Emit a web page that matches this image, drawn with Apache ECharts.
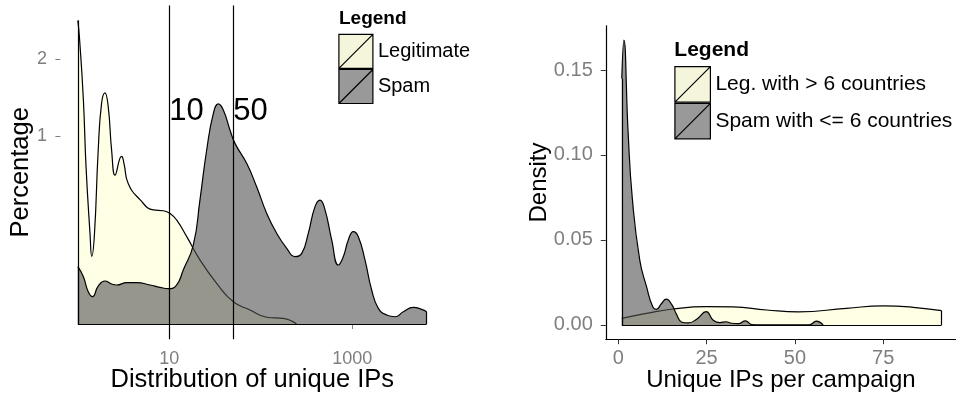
<!DOCTYPE html>
<html>
<head>
<meta charset="utf-8">
<script src="https://cdn.jsdelivr.net/npm/echarts@6/dist/echarts.min.js"></script>
<style>
  html, body { margin: 0; padding: 0; background: #fff; }
  #chart { width: 956px; height: 397px; }
</style>
</head>
<body>
<div id="chart"></div>
<script>
// ---- Left panel: distribution of unique IPs (log x, square-root y, in %) ----
const legitX   = [1.00, 1.04, 1.15, 1.23, 1.36, 1.42, 1.52, 1.67, 1.82, 1.98, 2.15, 2.34, 2.55, 2.88, 3.01, 3.20, 3.56, 4.78, 6.69, 8.60, 10.2, 12.0, 15.5, 21.6, 32.9, 50.1, 76.1, 116, 176, 246];
const legitPct = [2.62, 2.35, 1.43, 0.70, 0.23, 0.13, 0.23, 0.86, 1.39, 1.52, 1.34, 0.86, 0.63, 0.78, 0.80, 0.73, 0.56, 0.44, 0.37, 0.365, 0.348, 0.308, 0.217, 0.117, 0.047, 0.014, 0.0056, 0.0013, 0.0009, 0];

const spamX   = [1.0, 1.15, 1.30, 1.45, 1.67, 1.98, 2.34, 2.66, 3.42, 4.40, 6.15, 7.91, 9.75, 12.0, 14.2, 18.3, 21.6, 25.6, 30.3, 34.3, 38.9, 46.0, 52.2, 70.0, 90.0, 116, 149, 192, 236, 280, 330, 391, 443, 503, 595, 703, 797, 904, 1025, 1163, 1375, 1627, 1924, 2373, 2927, 3609, 4642, 5723, 6493];
const spamPct = [0.0935, 0.0637, 0.0297, 0.0213, 0.0411, 0.0526, 0.0455, 0.0433, 0.0486, 0.0486, 0.0433, 0.0382, 0.0355, 0.0433, 0.083, 0.178, 0.437, 0.861, 1.262, 1.377, 1.303, 1.071, 0.928, 0.734, 0.536, 0.348, 0.234, 0.163, 0.129, 0.142, 0.234, 0.392, 0.437, 0.370, 0.201, 0.099, 0.129, 0.201, 0.243, 0.217, 0.117, 0.0329, 0.0070, 0.0023, 0.0015, 0.0043, 0.0079, 0.0061, 0.0043];

const thresholds = [10, 50];          // vertical reference lines
const thresholdLabelPct = 1.29;        // height of their labels
const leftXTicks = [10, 1000];
const leftYTicks = [1, 2];

// ---- Right panel: density of unique IPs per campaign ----
const legWideX    = [1.0, 8, 15.5, 25, 32.5, 42, 51, 64.6, 75, 83.5, 91.5];
const legWideDens = [0.0039, 0.0068, 0.0094, 0.0108, 0.0106, 0.0088, 0.0077, 0.0098, 0.0112, 0.0104, 0.0084];

const spamNarrowX    = [1.0, 1.6, 2.8, 4.0, 6.1, 8.0, 9.8, 10.8, 12.2, 13.6, 15.2, 16.5, 18.0, 19.8, 22.2, 24.9, 26.9, 28.8, 30.5, 32.1, 34.0, 36.0, 37.8, 40.0, 54.0, 56.1, 58.0];
const spamNarrowDens = [0.145, 0.1676, 0.113, 0.074, 0.038, 0.0225, 0.0105, 0.0092, 0.0125, 0.0152, 0.0118, 0.0062, 0.0016, 0.0012, 0.0034, 0.0078, 0.0028, 0.0014, 0.0019, 0.0010, 0.0008, 0.0024, 0.0002, 0, 0, 0.0022, 0];

const rightXTicks = [0, 25, 50, 75];
const rightYTicks = [0, 0.05, 0.10, 0.15];

const names = {
  legit: 'Legitimate',
  spam: 'Spam',
  legWide: 'Leg. with > 6 countries',
  spamNarrow: 'Spam with <= 6 countries'
};

// ---- helpers ----
const FONT = "'Liberation Sans', Arial, Helvetica, sans-serif";
const CREAM = '#FFFFE6';
const CREAM_KEY = '#F5F5DC';
const GREY_KEY = '#999999';
const sq = v => Math.sqrt(v);
const zip = (xs, ys, f) => xs.map((x, i) => [x, f ? f(ys[i]) : ys[i]]);
const keyIcon = 'path://M0,0L10,0L10,10L0,10Z M0,10L10,0';

// black outline for the closed density polygon: side edges and baseline
function edges(xs, ys, f, withBaseline) {
  const g = f || (v => v);
  const n = xs.length - 1;
  const d = [
    [{ coord: [xs[0], 0] }, { coord: [xs[0], g(ys[0])] }],
    [{ coord: [xs[n], 0] }, { coord: [xs[n], g(ys[n])] }]
  ];
  if (withBaseline) d.push([{ coord: [xs[0], 0] }, { coord: [xs[n], 0] }]);
  return {
    silent: true, symbol: 'none', label: { show: false },
    lineStyle: { color: '#000', width: 1.2, type: 'solid' },
    emphasis: { disabled: true },
    data: d
  };
}

function densitySeries(name, gridIdx, xs, ys, f, fill, opacity, z, baseline) {
  return {
    name, type: 'line', xAxisIndex: gridIdx, yAxisIndex: gridIdx,
    data: zip(xs, ys, f), smooth: 0.5, symbol: 'none', z,
    lineStyle: { color: '#000', width: 1.2 },
    itemStyle: { color: fill },
    areaStyle: { color: fill, opacity },
    emphasis: { disabled: true },
    markLine: edges(xs, ys, f, baseline)
  };
}

const tickLabel = (size) => ({ color: '#7f7f7f', fontSize: size, fontFamily: FONT });

const chart = echarts.init(document.getElementById('chart'), null, { renderer: 'canvas' });
chart.setOption({
  animation: false,
  textStyle: { fontFamily: FONT },
  title: [
    { text: 'Legend', left: 339, top: 9, padding: 0,
      textStyle: { fontSize: 19, fontWeight: 'bold', color: '#000', fontFamily: FONT, lineHeight: 19 } },
    { text: 'Legend', left: 674.3, top: 40, padding: 0,
      textStyle: { fontSize: 21, fontWeight: 'bold', color: '#000', fontFamily: FONT, lineHeight: 21 } }
  ],
  legend: [
    { left: 338.3, top: 33.7, orient: 'vertical', padding: 0, itemGap: 0,
      itemWidth: 34, itemHeight: 34, selectedMode: false,
      textStyle: { fontSize: 20, color: '#000', fontFamily: FONT },
      data: [
        { name: names.legit, icon: keyIcon, itemStyle: { color: CREAM_KEY, borderColor: '#000', borderWidth: 1.2, opacity: 1 } },
        { name: names.spam, icon: keyIcon, itemStyle: { color: GREY_KEY, borderColor: '#000', borderWidth: 1.2, opacity: 1 } }
      ] },
    { left: 674.3, top: 66, orient: 'vertical', padding: 0, itemGap: 0,
      itemWidth: 35.5, itemHeight: 35.5, selectedMode: false,
      textStyle: { fontSize: 21, color: '#000', fontFamily: FONT },
      data: [
        { name: names.legWide, icon: keyIcon, itemStyle: { color: CREAM_KEY, borderColor: '#000', borderWidth: 1.2, opacity: 1 } },
        { name: names.spamNarrow, icon: keyIcon, itemStyle: { color: GREY_KEY, borderColor: '#000', borderWidth: 1.2, opacity: 1 } }
      ] }
  ],
  grid: [
    { left: 60.4, right: 956 - 444.1, top: 5.4, bottom: 397 - 339.2, containLabel: false, outerBoundsMode: 'none' },
    { left: 605.8, right: 0, top: 25.8, bottom: 397 - 339.2, containLabel: false, outerBoundsMode: 'none' }
  ],
  xAxis: [
    { type: 'log', gridIndex: 0, logBase: 10, min: 0.645, max: 10070,
      axisLine: { show: false },
      axisTick: { show: true, length: 5, lineStyle: { color: '#7f7f7f' }, customValues: leftXTicks },
      axisLabel: Object.assign(tickLabel(18), { margin: 11, customValues: leftXTicks, formatter: v => String(Math.round(v)) }),
      splitLine: { show: false }, minorTick: { show: false },
      name: 'Distribution of unique IPs', nameLocation: 'middle', nameGap: 28, nameMoveOverlap: false,
      nameTextStyle: { fontSize: 25.5, color: '#000', fontFamily: FONT } },
    { type: 'value', gridIndex: 1, min: -3.525, max: 95.6,
      axisLine: { show: true, onZero: false, lineStyle: { color: '#000', width: 1.2 } },
      axisTick: { show: true, length: 5, lineStyle: { color: '#333' }, customValues: rightXTicks },
      axisLabel: Object.assign(tickLabel(20), { margin: 9.5, customValues: rightXTicks }),
      splitLine: { show: false },
      name: 'Unique IPs per campaign', nameLocation: 'middle', nameGap: 29.5, nameMoveOverlap: false,
      nameTextStyle: { fontSize: 24, color: '#000', fontFamily: FONT } }
  ],
  yAxis: [
    { type: 'value', gridIndex: 0, min: -0.0809, max: 1.699,
      axisLine: { show: false },
      axisTick: { show: true, length: 5, lineStyle: { color: '#7f7f7f' }, customValues: leftYTicks.map(sq) },
      axisLabel: Object.assign(tickLabel(18), { margin: 13.5, customValues: leftYTicks.map(sq), formatter: v => String(Math.round(v * v)) }),
      splitLine: { show: false },
      name: 'Percentage', nameLocation: 'middle', nameGap: 26, nameRotate: 90, nameMoveOverlap: false,
      nameTextStyle: { fontSize: 25.5, color: '#000', fontFamily: FONT } },
    { type: 'value', gridIndex: 1, min: -0.00838, max: 0.176,
      axisLine: { show: true, onZero: false, lineStyle: { color: '#000', width: 1.2 } },
      axisTick: { show: true, length: 5, lineStyle: { color: '#333' }, customValues: rightYTicks },
      axisLabel: Object.assign(tickLabel(20), { margin: 13, customValues: rightYTicks, formatter: v => v.toFixed(2) }),
      splitLine: { show: false },
      name: 'Density', nameLocation: 'middle', nameGap: 54, nameRotate: 90, nameMoveOverlap: false,
      nameTextStyle: { fontSize: 24, color: '#000', fontFamily: FONT } }
  ],
  series: [
    densitySeries(names.legit, 0, legitX, legitPct, sq, CREAM, 1, 2, false),
    densitySeries(names.spam, 0, spamX, spamPct, sq, '#505050', 0.6, 3, true),
    {
      name: 'thresholds', type: 'scatter', xAxisIndex: 0, yAxisIndex: 0, z: 6,
      data: thresholds.map(x => [x, sq(thresholdLabelPct)]),
      symbolSize: 0, silent: true,
      label: { show: true, position: 'right', distance: 0, formatter: p => String(p.value[0]),
               fontSize: 31, color: '#000', fontFamily: FONT, opacity: 1 },
      markLine: {
        silent: true, symbol: 'none', label: { show: false },
        lineStyle: { color: '#000', width: 1.2, type: 'solid' },
        emphasis: { disabled: true },
        data: thresholds.map(x => ({ xAxis: x }))
      }
    },
    densitySeries(names.legWide, 1, legWideX, legWideDens, null, CREAM, 1, 2, true),
    densitySeries(names.spamNarrow, 1, spamNarrowX, spamNarrowDens, null, '#505050', 0.6, 3, false)
  ]
});
</script>
</body>
</html>
